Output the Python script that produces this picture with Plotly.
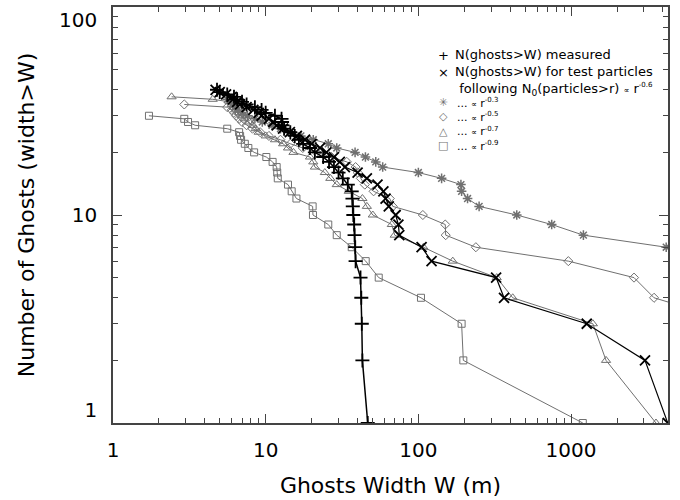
import plotly.graph_objects as go

# ---------------- data ----------------
# measured ghosts: N(ghosts>W)
meas_W = [4.8, 5.0, 5.6, 6.2, 6.5, 7.0, 7.5, 8.5, 9.4, 10.0, 11.5, 12.7, 12.8, 12.9, 13.2,
          14.5, 15.5, 16.5, 17.6, 19.5, 21.0, 23.8, 26.0, 28.0, 30.0, 32.0, 34.5, 36.6, 37.0,
          37.2, 37.5, 38.0, 38.2, 38.6, 38.8, 41.8, 42.3, 42.6, 43.0, 46.6]
meas_N = [40, 39, 38, 37, 36, 35, 34, 33, 32, 31, 30, 29, 28, 27, 26,
          25, 24, 23, 22, 21, 20, 19, 18, 17, 16, 15, 14, 13, 12,
          11, 10, 9, 8, 7, 6, 5, 4, 3, 2, 1]

# test particles, N0(particles>r) ~ r^-0.6
p06_W = [4.7, 5.0, 5.5, 6.0, 6.1, 6.5, 6.8, 7.5, 8.3, 9.0, 9.4, 10.5, 11.2, 11.8, 13.0,
         14.4, 16.0, 18.1, 20.0, 22.7, 25.0, 28.0, 30.6, 33.0, 40.0, 46.0, 54.0, 59.0, 61.0,
         64.0, 71.0, 74.0, 75.0, 105.0, 122.0, 323.0, 364.0, 1267.0, 3050.0, 4300.0]
p06_N = [40, 39, 38, 37, 36, 35, 34, 33, 32, 31, 30, 29, 28, 27, 26,
         25, 24, 23, 22, 21, 20, 19, 18, 17, 16, 15, 14, 13, 12,
         11, 10, 9, 8, 7, 6, 5, 4, 3, 2, 1]

# ~ r^-0.3
p03_W = [5.6, 5.9, 6.1, 6.3, 6.6, 7.0, 7.6, 8.5, 9.5, 11.0, 12.5, 14.5, 17.0, 20.5, 25.7,
         29.2, 38.5, 45.0, 52.6, 58.4, 100.0, 142.0, 190.0, 192.0, 210.0, 250.0, 441.0,
         747.0, 1205.0, 4200.0]
p03_N = [36, 35, 34, 33, 32, 31, 30, 29, 28, 27, 26, 25, 24, 23, 22,
         21, 20, 19, 18, 17, 16, 15, 14, 13, 12, 11, 10, 9, 8, 7]

# ~ r^-0.5
p05_W = [2.93, 5.6, 6.0, 6.2, 6.4, 6.7, 7.0, 7.5, 8.2, 9.2, 10.5, 12.5, 14.5, 17.5, 21.5,
         27.0, 34.0, 38.8, 40.0, 42.0, 44.6, 50.9, 65.0, 68.0, 107.0, 150.0, 151.0, 238.0,
         960.0, 2585.0, 3497.0, 12600.0]
p05_N = [34, 33, 32, 31, 30, 29, 28, 27, 26, 25, 24, 23, 22, 21, 20,
         19, 18, 17, 16, 15, 14, 13, 12, 11, 10, 9, 8, 7, 6, 5, 4, 3]

# ~ r^-0.7
p07_W = [2.42, 4.5, 5.8, 6.0, 6.2, 6.4, 6.7, 7.0, 7.3, 7.8, 8.2, 8.6, 9.0, 10.0, 11.5,
         13.0, 14.0, 15.2, 19.5, 20.5, 21.0, 24.4, 26.5, 29.2, 35.0, 43.0, 46.0, 50.3,
         67.0, 70.0, 108.0, 168.0, 326.0, 415.0, 1390.0, 1695.0, 3600.0]
p07_N = [37, 36, 35, 34, 33, 32, 31, 30, 29, 28, 27, 26, 25, 24, 23,
         22, 21, 20, 19, 18, 17, 16, 15, 14, 13, 12, 11, 10,
         9, 8, 7, 6, 5, 4, 3, 2, 1]

# ~ r^-0.9
p09_W = [1.72, 2.93, 3.1, 3.45, 5.6, 6.7, 6.8, 6.9, 7.3, 7.7, 8.4, 10.1, 11.1, 11.8, 11.9,
         12.0, 14.0, 14.8, 15.9, 20.3, 20.4, 25.7, 29.2, 36.6, 45.2, 55.0, 104.0, 192.0,
         197.0, 1194.0]
p09_N = [30, 29, 28, 27, 26, 25, 24, 23, 22, 21, 20, 19, 18, 17, 16,
         15, 14, 13, 12, 11, 10, 9, 8, 7, 6, 5, 4, 3, 2, 1]

# axis ticks
x_ticks = [1, 10, 100, 1000]
x_labels = ["1", "10", "100", "1000"]
y_ticks = [1, 10, 100]
y_labels = ["1<br> ", "10", " <br>100"]   # IDL keeps the end labels inside the frame
minor_x = [m * d for d in (1, 10, 100, 1000) for m in range(2, 10)]
minor_y = [m * d for d in (1, 10) for m in range(2, 10)]

# ---------------- styling ----------------
FONT = "DejaVu Sans"
GRAY = "#707070"
AX = "#444444"

fig = go.Figure()

def add(W, N, sym, size, color, lw, mlw):
    fig.add_trace(go.Scatter(
        x=W, y=N, mode="lines+markers", showlegend=False,
        line=dict(color=color, width=lw),
        marker=dict(symbol=sym, size=size, color=color,
                    line=dict(color=color, width=mlw))))

add(p09_W, p09_N, "square-open", 7, GRAY, 1, 1)
add(p07_W, p07_N, "triangle-up-open", 8, GRAY, 1, 1)
add(p05_W, p05_N, "diamond-open", 7, GRAY, 1, 1)
add(p03_W, p03_N, "asterisk-open", 8, GRAY, 1, 1.5)
add(p06_W, p06_N, "x-thin-open", 10, "black", 1.2, 1.8)
add(meas_W, meas_N, "cross-thin-open", 10, "black", 1.5, 1.8)

axis_common = dict(
    type="log", showgrid=False, zeroline=False, automargin=False,
    showline=True, linecolor=AX, linewidth=1.5, mirror="ticks",
    ticks="inside", ticklen=9, tickwidth=1, tickcolor=AX,
    tickfont=dict(family=FONT, size=20, color="black"),
    tickmode="array", ticklabeloverflow="allow",
)

fig.update_xaxes(**axis_common, range=[0, 3.635], ticklabelstandoff=8,
                 tickvals=x_ticks, ticktext=x_labels,
                 minor=dict(tickmode="array", tickvals=minor_x, ticks="inside", ticklen=5,
                            tickwidth=1, tickcolor=AX, showgrid=False),
                 title=dict(text="Ghosts Width W (m)",
                            font=dict(family=FONT, size=22, color="black"), standoff=17))
fig.update_yaxes(**axis_common, range=[0, 2], ticklabelstandoff=10,
                 tickvals=y_ticks, ticktext=y_labels,
                 minor=dict(tickmode="array", tickvals=minor_y, ticks="inside", ticklen=5,
                            tickwidth=1, tickcolor=AX, showgrid=False),
                 title=dict(text="Number of Ghosts (width>W)",
                            font=dict(family=FONT, size=22, color="black"), standoff=18))

# ---------------- legend drawn as text ----------------
L, R, T, B = 113, 668, 7, 423
def px(x):
    return (x - L) / (R - L)
def py(y):
    return (B - y) / (B - T)

small = "<span style='font-size:8px'>∝</span>"
def sup(s):
    return "<sup><span style='font-size:7px'>" + s + "</span></sup>"

# black entries (rows at ~55, 72, 89 px)
fig.add_annotation(x=px(443), y=py(63.5), xref="paper", yref="paper",
                   text="+<br>×", showarrow=False, xanchor="center", yanchor="middle",
                   font=dict(family=FONT, size=13, color="black"))
fig.add_annotation(x=px(453), y=py(72), xref="paper", yref="paper", align="left",
                   text=("N(ghosts>W) measured<br>N(ghosts>W) for test particles<br>"
                         " following N<sub>0</sub>(particles>r) " + small + " r" + sup("-0.6")),
                   showarrow=False, xanchor="left", yanchor="middle",
                   font=dict(family=FONT, size=13, color="black"))

# grey entries (rows at ~102, 116, 130, 145 px)
fig.add_annotation(x=px(443), y=py(124), xref="paper", yref="paper",
                   text="✳<br>◇<br>△<br>□", showarrow=False, xanchor="center", yanchor="middle",
                   font=dict(family=FONT, size=11, color=GRAY))
fig.add_annotation(x=px(455), y=py(124), xref="paper", yref="paper", align="left",
                   text="<br>".join("... " + small + " r" + sup(e)
                                    for e in ("-0.3", "-0.5", "-0.7", "-0.9")),
                   showarrow=False, xanchor="left", yanchor="middle",
                   font=dict(family=FONT, size=11, color="black"))

fig.update_layout(
    width=680, height=500,
    margin=dict(l=L, r=680 - R, t=T, b=500 - B),
    paper_bgcolor="white", plot_bgcolor="white",
    font=dict(family=FONT, color="black"),
)

fig.write_html("out.html", config={"displayModeBar": False},
               post_script="document.body.style.margin='0';")
